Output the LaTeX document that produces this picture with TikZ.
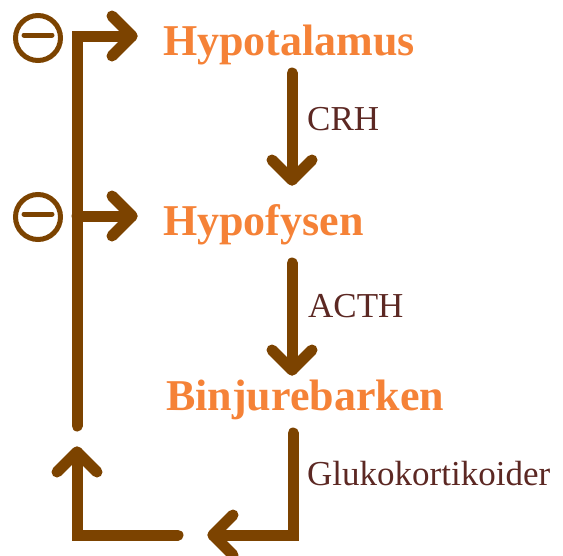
\documentclass[tikz,border=0pt]{standalone}
\usepackage{fontspec}
\setmainfont{Liberation Serif}
\begin{document}
\begin{tikzpicture}[x=1pt,y=-1pt,
  flow/.style={draw=brownA, line width=11pt, line cap=round, line join=miter},
  head/.style={draw=brownA, line width=11pt, line cap=round, line join=round},
  organ/.style={anchor=base west, inner sep=0pt, text=orangeA, font=\fontsize{44}{50}\selectfont\bfseries},
  horm/.style={anchor=base west, inner sep=0pt, text=textA, font=\fontsize{35}{40}\selectfont},
  inhib/.style={circle, draw=brownA, line width=5pt, minimum size=45pt, inner sep=0pt}]
\definecolor{brownA}{RGB}{124,67,0}
\definecolor{orangeA}{RGB}{245,130,55}
\definecolor{textA}{RGB}{92,40,35}
\useasboundingbox (0,0) rectangle (563,555);
% texts
\node[organ] (hyp) at (163,55) {Hypotalamus};
\node[organ] (pit) at (163,235) {Hypofysen};
\node[organ] (adr) at (166,410) {Binjurebarken};
\node[horm] (crh) at (307,130) {CRH};
\node[horm] (acth) at (308,317) {ACTH};
\node[horm] (gluk) at (307,485) {Glukokortikoider};
% inhibition marks
\node[inhib] (m1) at (38,38) {};
\node[inhib] (m2) at (38,217) {};
\draw[brownA, line width=5pt, line cap=round] ([xshift=-14pt,yshift=3pt]m1.center) -- ([xshift=14pt,yshift=3pt]m1.center);
\draw[brownA, line width=5pt, line cap=round] ([xshift=-14pt,yshift=3pt]m2.center) -- ([xshift=14pt,yshift=3pt]m2.center);
% coordinates
\coordinate (ltop) at (77,36);
\coordinate (lbot) at (77,426);
\coordinate (t1) at (132,36);
\coordinate (lmid) at (77,216);
\coordinate (t2) at (132,216);
\coordinate (c1s) at (292,73);
\coordinate (c1t) at (292,180);
\coordinate (c2s) at (292,263);
\coordinate (c2t) at (292,370);
\coordinate (rs) at (293,433);
\coordinate (rc) at (293,535);
\coordinate (rt) at (213,535);
\coordinate (bs) at (178,535);
\coordinate (bc) at (77,535);
\coordinate (bt) at (77,452);
% connectors
\draw[flow] (lbot) -- (ltop) -- (t1);
\draw[head] (t1) ++(-20,-20) -- (t1) -- ++(-20,20);
\draw[flow] (lmid) -- (t2);
\draw[head] (t2) ++(-20,-20) -- (t2) -- ++(-20,20);
\draw[flow] (c1s) -- (c1t);
\draw[head] (c1t) ++(-20,-20) -- (c1t) -- ++(20,-20);
\draw[flow] (c2s) -- (c2t);
\draw[head] (c2t) ++(-20,-20) -- (c2t) -- ++(20,-20);
\draw[flow] (rs) -- (rc) -- (rt);
\draw[head] (rt) ++(20,-20) -- (rt) -- ++(20,20);
\draw[flow] (bs) -- (bc) -- (bt);
\draw[head] (bt) ++(-20,20) -- (bt) -- ++(20,20);
\end{tikzpicture}
\end{document}
